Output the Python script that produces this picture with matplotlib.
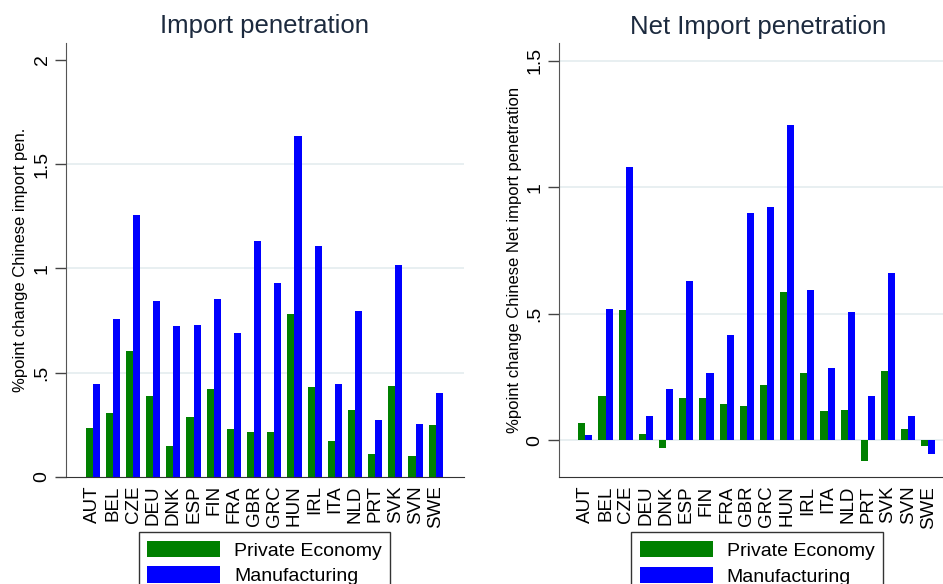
import numpy as np
import matplotlib
matplotlib.use("Agg")
import matplotlib.pyplot as plt

# Daten
countries = ["AUT", "BEL", "CZE", "DEU", "DNK", "ESP", "FIN", "FRA", "GBR",
             "GRC", "HUN", "IRL", "ITA", "NLD", "PRT", "SVK", "SVN", "SWE"]

imp_private = [0.237, 0.307, 0.604, 0.390, 0.149, 0.289, 0.424, 0.232, 0.217,
               0.217, 0.782, 0.432, 0.171, 0.323, 0.109, 0.438, 0.101, 0.249]
imp_manuf = [0.445, 0.756, 1.257, 0.844, 0.724, 0.729, 0.852, 0.689, 1.132,
             0.930, 1.634, 1.109, 0.445, 0.796, 0.272, 1.015, 0.254, 0.401]

net_private = [0.067, 0.175, 0.515, 0.025, -0.032, 0.167, 0.167, 0.145, 0.137,
               0.217, 0.587, 0.267, 0.116, 0.118, -0.082, 0.274, 0.043, -0.021]
net_manuf = [0.020, 0.518, 1.080, 0.095, 0.204, 0.631, 0.267, 0.417, 0.898,
             0.922, 1.246, 0.595, 0.286, 0.507, 0.175, 0.662, 0.096, -0.053]

imp_ticks = [0, 0.5, 1, 1.5, 2]
imp_ticklabels = ["0", ".5", "1", "1.5", "2"]
net_ticks = [0, 0.5, 1, 1.5]
net_ticklabels = ["0", ".5", "1", "1.5"]

GREEN = "#008000"
BLUE = "#0000ff"
GRID = "#e6eef0"
TITLE = "#1c2a3e"

plt.rcParams["font.family"] = ["Liberation Sans", "DejaVu Sans"]

fig = plt.figure(figsize=(9.43, 5.84), dpi=100)
ax1 = fig.add_axes([0.070, 0.1832, 0.422, 0.7432])
ax2 = fig.add_axes([0.5925, 0.1827, 0.422, 0.7432])

x = np.arange(len(countries))
w = 0.35


def panel(ax, priv, manuf, ticks, labels, ylim, title, ylabel, grid_vals, lab_x):
    for g in grid_vals:
        ax.axhline(g, color=GRID, lw=1.3, zorder=0)
    ax.bar(x - w, priv, w, align="edge", color=GREEN, label="Private Economy", zorder=2)
    ax.bar(x, manuf, w, align="edge", color=BLUE, label="Manufacturing", zorder=2)
    ax.set_xlim(-1.32, 18.4)
    ax.set_ylim(*ylim)
    ax.set_yticks(ticks)
    ax.set_yticklabels(labels, rotation=90, va="center", fontsize=14)
    ax.set_xticks(x)
    ax.set_xticklabels(countries, rotation=90, fontsize=13.5)
    ax.tick_params(axis="x", length=0, pad=6)
    ax.tick_params(axis="y", length=8, width=1, pad=3, color="#444444")
    for s in ["top", "right"]:
        ax.spines[s].set_visible(False)
    ax.spines["left"].set_color("#555555")
    ax.spines["bottom"].set_color("#333333")
    ax.set_title(title, fontsize=18.5, color=TITLE, pad=7)
    ax.set_ylabel(ylabel, fontsize=12)
    ax.yaxis.set_label_coords(lab_x, 0.5)
    leg = ax.legend(loc="upper center", bbox_to_anchor=(0.499, -0.127),
                    fontsize=14, frameon=True, fancybox=False, ncol=1,
                    handlelength=3.75, handleheight=0.9, handletextpad=0.7,
                    borderpad=0.45, labelspacing=0.35, borderaxespad=0)
    leg.get_frame().set_edgecolor("black")
    leg.get_frame().set_linewidth(1.0)


panel(ax1, imp_private, imp_manuf, imp_ticks, imp_ticklabels, (0, 2.08),
      "Import penetration", "%point change Chinese import pen.", [0.5, 1, 1.5],
      -38 / 398)
panel(ax2, net_private, net_manuf, net_ticks, net_ticklabels, (-0.146, 1.569),
      "Net Import penetration", "%point change Chinese Net import penetration",
      [0, 0.5, 1, 1.5], -37 / 398)

fig.savefig("out.png", dpi=100)
